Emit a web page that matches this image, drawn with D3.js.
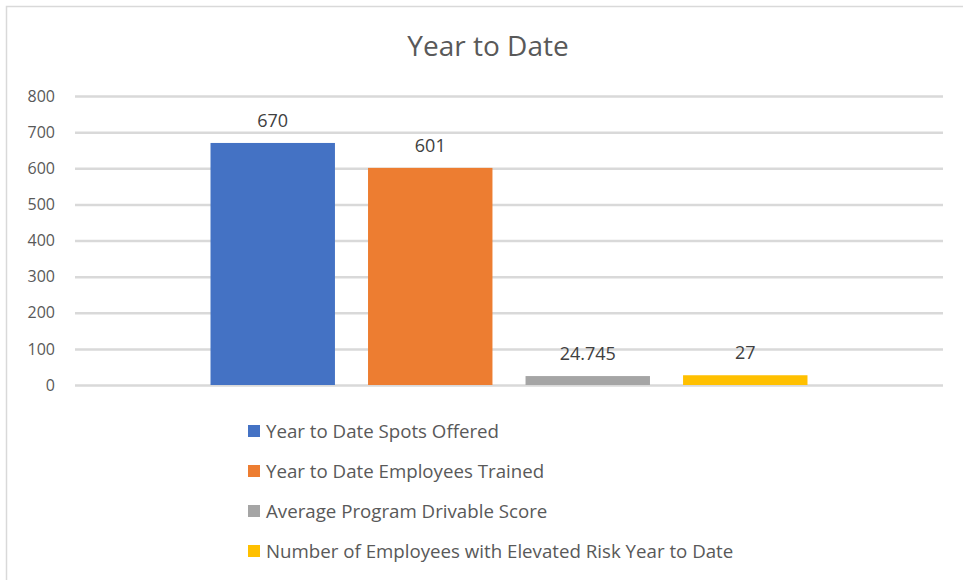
<!DOCTYPE html>
<html><head><meta charset="utf-8">
<script src="https://cdn.jsdelivr.net/npm/d3@7"></script>
<style>body{margin:0;background:#fff;} text{font-family:"Open Sans",sans-serif;}</style>
</head><body>
<svg id="c" width="963" height="580"></svg>
<script>
const title = "Year to Date";
const categories = ["Year to Date"];
const seriesNames = ["Year to Date Spots Offered","Year to Date Employees Trained","Average Program Drivable Score","Number of Employees with Elevated Risk Year to Date"];
const seriesValues = [670, 601, 24.745, 27];
const valueLabels = ["670","601","24.745","27"];
const colors = ["#4472C4","#ED7D31","#A5A5A5","#FFC000"];
const yTicks = [0,100,200,300,400,500,600,700,800];

const svg = d3.select("#c");
svg.append("rect").attr("x",6.5).attr("y",6.5).attr("width",980).attr("height",600)
  .attr("fill","#fff").attr("stroke","#d9d9d9").attr("stroke-width",1.5);

const x0 = d3.scaleBand().domain(categories).range([75,943]).paddingOuter(0.227).paddingInner(0);
const x1 = d3.scaleBand().domain(seriesNames).range([0,x0.bandwidth()]).paddingInner(0.21).paddingOuter(0);
const y = d3.scaleLinear().domain([0,800]).range([385,96]);

svg.append("text").attr("x",488).attr("y",56).attr("text-anchor","middle")
  .attr("font-size",28).attr("fill","#595959").text(title);

const yAxis = d3.axisLeft(y).tickValues(yTicks).tickSize(-868).tickPadding(20);
const ga = svg.append("g").attr("transform","translate(75,0)").call(yAxis);
ga.select(".domain").remove();
ga.selectAll(".tick line").attr("stroke","#d9d9d9").attr("stroke-width",2.5);
ga.selectAll(".tick text").attr("fill","#595959").attr("font-size",16).attr("font-family","'Open Sans',sans-serif");

const g = svg.append("g").attr("transform",`translate(${x0(categories[0])},0)`);
g.selectAll("rect").data(seriesNames).join("rect")
  .attr("x",d=>x1(d)).attr("width",x1.bandwidth())
  .attr("y",(d,i)=>y(seriesValues[i])).attr("height",(d,i)=>y(0)-y(seriesValues[i]))
  .attr("fill",(d,i)=>colors[i]);
g.selectAll("text.lbl").data(seriesNames).join("text").attr("class","lbl")
  .attr("x",d=>x1(d)+x1.bandwidth()/2).attr("y",(d,i)=>y(seriesValues[i])-16)
  .attr("text-anchor","middle").attr("font-size",18).attr("fill","#404040")
  .text((d,i)=>valueLabels[i]);

const lg = svg.append("g").attr("transform","translate(248,431)");
const rows = lg.selectAll("g").data(seriesNames).join("g").attr("transform",(d,i)=>`translate(0,${i*40})`);
rows.append("rect").attr("x",0).attr("y",-6).attr("width",12).attr("height",12).attr("fill",(d,i)=>colors[i]);
rows.append("text").attr("x",18).attr("y",6.5).attr("font-size",18.7).attr("fill","#595959").text(d=>d);
</script>
</body></html>
